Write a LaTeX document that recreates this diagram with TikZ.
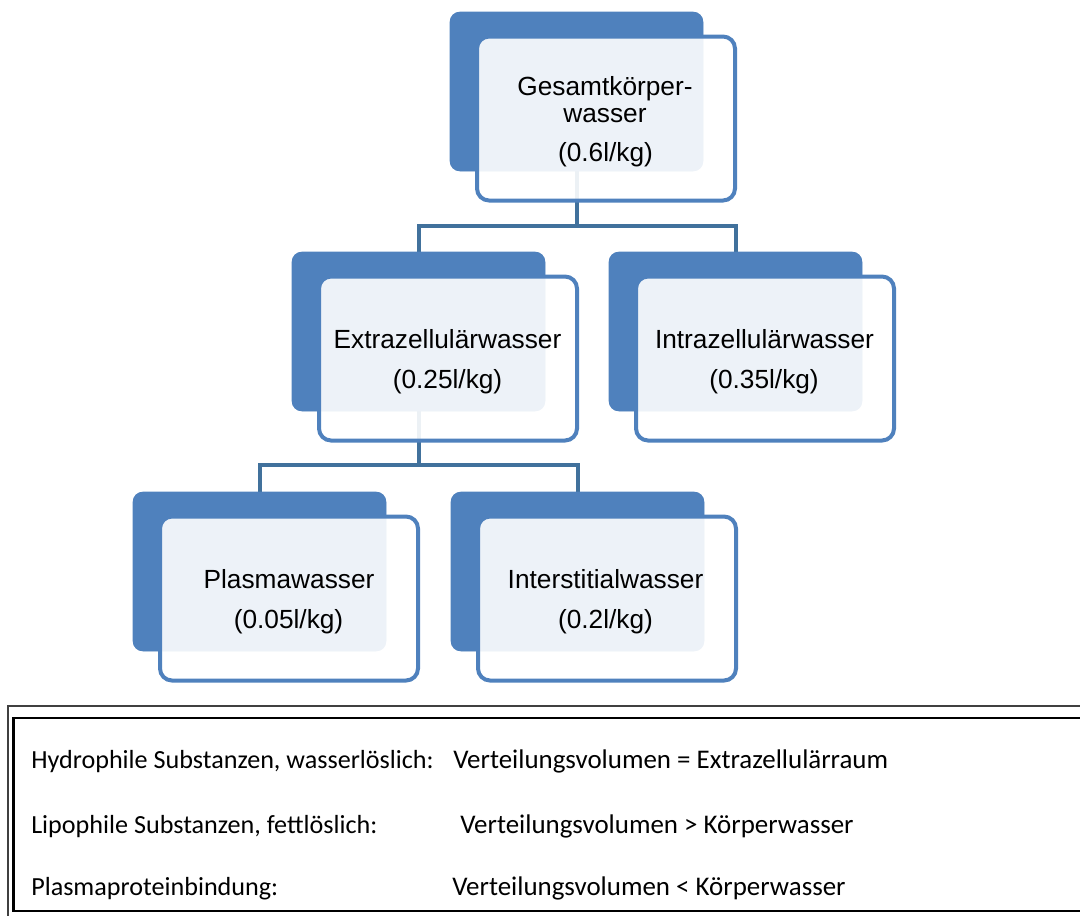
\documentclass[tikz,border=0pt]{standalone}
\usepackage{fontspec}
\setmainfont{Liberation Sans}
\newfontfamily\calib{Carlito}
\definecolor{accent}{HTML}{4F81BD}
\definecolor{connc}{HTML}{41719C}
\definecolor{framegray}{HTML}{404040}
\tikzset{
  darkbox/.style={fill=accent, draw=none, rounded corners=7.5pt, minimum width=189.75pt, minimum height=119.25pt, inner sep=0pt},
  frontbox/.style={draw=accent, line width=3pt, fill=white, fill opacity=0.9, rounded corners=9pt, minimum width=193.5pt, minimum height=123pt, inner sep=0pt},
  conn/.style={draw=connc, line width=3pt},
  lbl/.style={font=\fontsize{19.7}{23}\selectfont, anchor=base, inner sep=0pt, text=black},
  note/.style={font=\calib\fontsize{19.6}{23}\selectfont, anchor=base west, inner sep=0pt, text=black},
  notetwo/.style={font=\calib\fontsize{20.2}{23}\selectfont, anchor=base west, inner sep=0pt, text=black},
}
\begin{document}
\begin{tikzpicture}[x=0.75pt,y=-0.75pt]
\useasboundingbox (0,0) rectangle (1080,915);
% background boxes (positions)
\node[darkbox] (Gd) at (576.5,91.5) {};
\node[darkbox] (Ed) at (418.5,331.5) {};
\node[darkbox] (Id) at (735.5,331.5) {};
\node[darkbox] (Pd) at (259.5,571.5) {};
\node[darkbox] (Sd) at (577.5,571.5) {};
% connectors
\draw[conn] (Gd.south) -- ++(0,55) -| (Ed.north);
\draw[conn] (Gd.south) -- ++(0,55) -| (Id.north);
\draw[conn] (Ed.south) -- ++(0,54) -| (Pd.north);
\draw[conn] (Ed.south) -- ++(0,54) -| (Sd.north);
% redraw dark boxes over connectors
\fill[accent, rounded corners=7.5pt] (Gd.south west) rectangle (Gd.north east);
\fill[accent, rounded corners=7.5pt] (Ed.south west) rectangle (Ed.north east);
\fill[accent, rounded corners=7.5pt] (Id.south west) rectangle (Id.north east);
\fill[accent, rounded corners=7.5pt] (Pd.south west) rectangle (Pd.north east);
\fill[accent, rounded corners=7.5pt] (Sd.south west) rectangle (Sd.north east);
% front boxes
\node[frontbox] (Gf) at (606,118.5) {};
\node[frontbox] (Ef) at (448,358.5) {};
\node[frontbox] (If) at (765,358.5) {};
\node[frontbox] (Pf) at (289,598.5) {};
\node[frontbox] (Sf) at (607,598.5) {};
% labels
\node[lbl] (g1) at (605,95) {Gesamtkörper-};
\node[lbl] (g2) at (605,122) {wasser};
\node[lbl] (g3) at (605.5,161) {(0.6l/kg)};
\node[lbl] (e1) at (447.5,348) {Extrazellulärwasser};
\node[lbl] (e2) at (447.5,388) {(0.25l/kg)};
\node[lbl] (i1) at (764.5,348) {Intrazellulärwasser};
\node[lbl] (i2) at (764,388) {(0.35l/kg)};
\node[lbl] (p1) at (289,588) {Plasmawasser};
\node[lbl] (p2) at (288.5,628) {(0.05l/kg)};
\node[lbl] (s1) at (605.5,588) {Interstitialwasser};
\node[lbl] (s2) at (605.5,628) {(0.2l/kg)};
% bottom text frame
\begin{scope}
\clip (0,0) rectangle (1080,915);
\draw[framegray, line width=1.2pt] (8,706) rectangle (1100,930);
\draw[black, line width=2pt] (13.5,718) rectangle (1100,911);
\end{scope}
\node[note] (n1a) at (31,768) {Hydrophile Substanzen, wasserlöslich:};
\node[notetwo] (n1b) at (453,768) {Verteilungsvolumen = Extrazellulärraum};
\node[note] (n2a) at (31,833) {Lipophile Substanzen, fettlöslich:};
\node[notetwo] (n2b) at (460,833) {Verteilungsvolumen > Körperwasser};
\node[note] (n3a) at (31,895) {Plasmaproteinbindung:};
\node[notetwo] (n3b) at (452,895) {Verteilungsvolumen < Körperwasser};
\end{tikzpicture}
\end{document}
